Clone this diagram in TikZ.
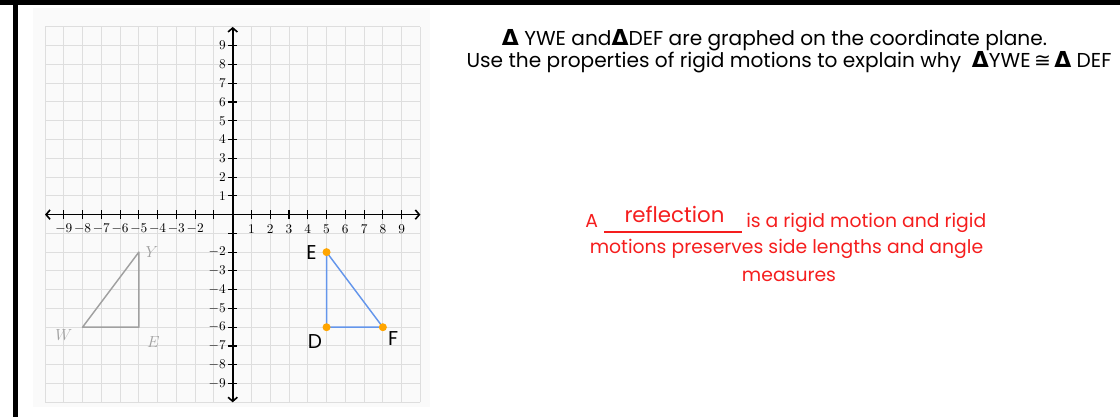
\documentclass[tikz,border=0pt]{standalone}
\usepackage[no-math]{fontspec}
\setmainfont{Poppins}
\newfontfamily\symf{DejaVu Sans}
\usetikzlibrary{arrows.meta}
\definecolor{gridc}{RGB}{222,222,222}
\definecolor{panelc}{RGB}{250,250,250}
\definecolor{tric}{RGB}{160,160,160}
\definecolor{bluec}{RGB}{100,150,235}
\definecolor{dotc}{RGB}{255,165,0}
\definecolor{redc}{RGB}{245,30,30}
\tikzset{
  ticklab/.style={inner sep=0pt, font=\fontsize{10}{12}\selectfont},
  graylab/.style={inner sep=0pt, text=tric, font=\fontsize{12}{14}\selectfont},
  ptlab/.style={inner sep=0pt, font=\fontsize{15}{17}\selectfont},
  black text/.style={inner sep=0pt, font=\fontsize{15.1}{18}\selectfont},
  red text/.style={inner sep=0pt, text=redc, font=\fontsize{14.1}{17}\selectfont},
  axis/.style={line width=1.2pt, {Straight Barb[length=3pt,width=7pt]}-{Straight Barb[length=3pt,width=7pt]}},
}
\newcommand{\tri}{{\symf\bfseries\fontsize{16.5}{17}\selectfont Δ}}
\begin{document}
\begin{tikzpicture}[x=0.75pt,y=-0.75pt]
\useasboundingbox (0,0) rectangle (1120,417);
% frame
\fill[black] (0,0) rectangle (1120,5);
\fill[black] (13,0) rectangle (17.5,417);
% panel
\fill[panelc] (33,8) rectangle (430,407);
\begin{scope}[shift={(232.7,214.6)}, x=14.0775pt, y=14.0775pt]
  \foreach \k in {-10,...,10} {
    \draw[gridc, line width=0.75pt] (\k,-10) -- (\k,10);
    \draw[gridc, line width=0.75pt] (-10,\k) -- (10,\k);
  }
  \coordinate (xl) at (-10,0); \coordinate (xr) at (10,0);
  \coordinate (yb) at (0,-10); \coordinate (yt) at (0,10);
  \draw[axis] (xl) -- (xr);
  \draw[axis] (yb) -- (yt);
  \foreach \i in {-9,...,-1,1,2,...,9} {
    \draw[line width=0.8pt] (\i,-0.24) -- (\i,0.24);
    \draw[line width=0.8pt] (-0.24,\i) -- (0.24,\i);
  }
  \foreach \i in {-9,...,-2,1,2,...,9} {
    \node[ticklab] (xlab\i) at (\i,-0.77) {$\i$};
    \node[ticklab, anchor=east] (ylab\i) at (-0.36,\i) {$\i$};
  }
  % triangle YWE
  \coordinate (W) at (-8,-6); \coordinate (Y) at (-5,-2); \coordinate (Eg) at (-5,-6);
  \draw[tric, line width=1.1pt, line join=round] (W) -- (Y) -- (Eg) -- cycle;
  \node[graylab] (lY) at (-4.3,-2) {$Y$};
  \node[graylab] (lW) at (-9,-6.4) {$W$};
  \node[graylab] (lEg) at (-4.23,-6.77) {$E$};
  % triangle DEF
  \coordinate (D) at (5,-6); \coordinate (E) at (5,-2); \coordinate (F) at (8,-6);
  \draw[bluec, line width=1.1pt, line join=round] (E) -- (D) -- (F) -- cycle;
  \foreach \p in {D,E,F} \fill[dotc] (\p) circle[radius=3pt];
  \node[ptlab] (lE) at (4.2,-2) {E};
  \node[ptlab] (lD) at (4.38,-6.77) {D};
  \node[ptlab] (lF) at (8.55,-6.6) {F};
\end{scope}
% right text
\node[black text] (t1) at (774.5,40) {\tri\ YWE and\tri DEF are graphed on the coordinate plane.};
\node[black text] (t2) at (789,62) {Use the properties of rigid motions to explain why \ \tri YWE\,{\symf ≅}\,\tri\ DEF};
% red text
\node[red text, anchor=base west] (rA) at (585,227) {A};
\coordinate (u1) at (604,232); \coordinate (u2) at (742,232);
\draw[redc, line width=0.8pt] (u1) -- (u2);
\node[red text, font=\fontsize{16}{18}\selectfont, anchor=base] (rw) at (674.5,222) {reflection};
\node[red text, anchor=base west] (r1) at (746,227) {is a rigid motion and rigid};
\node[red text] (r2) at (786.5,249) {motions preserves side lengths and angle};
\node[red text] (r3) at (789,276) {measures};
\end{tikzpicture}
\end{document}
